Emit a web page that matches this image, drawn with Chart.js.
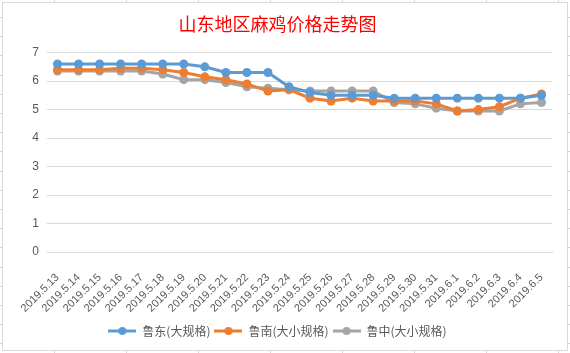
<!DOCTYPE html>
<html>
<head>
<meta charset="utf-8">
<script src="https://cdn.jsdelivr.net/npm/chart.js@4"></script>
<style>
  html, body { margin: 0; padding: 0; }
  body {
    width: 570px; height: 353px; overflow: hidden; position: relative;
    background-color: #fff;
    background-image:
      repeating-linear-gradient(to bottom, transparent 0, transparent 17px, #d4d4d4 17px, #d4d4d4 18px, transparent 18px, transparent 19.2px),
      repeating-linear-gradient(to right, transparent 0, transparent 54px, #d4d4d4 54px, #d4d4d4 55px, transparent 55px, transparent 72px);
  }
  #box {
    position: absolute; left: 2px; top: 2px;
    width: 564px; height: 347px;
    border: 1px solid #d9d9d9; background: #fff;
  }
</style>
</head>
<body>
<div id="box"><canvas id="priceChart" width="564" height="347"></canvas></div>
<script>
// dates on the x axis
const days = ["2019.5.13", "2019.5.14", "2019.5.15", "2019.5.16", "2019.5.17", "2019.5.18",
  "2019.5.19", "2019.5.20", "2019.5.21", "2019.5.22", "2019.5.23", "2019.5.24",
  "2019.5.25", "2019.5.26", "2019.5.27", "2019.5.28", "2019.5.29", "2019.5.30",
  "2019.5.31", "2019.6.1", "2019.6.2", "2019.6.3", "2019.6.4", "2019.6.5"];

// prices per region
const ludong = [6.6, 6.6, 6.6, 6.6, 6.6, 6.6, 6.6, 6.5, 6.3, 6.3, 6.3, 5.8,
  5.6, 5.5, 5.5, 5.5, 5.4, 5.4, 5.4, 5.4, 5.4, 5.4, 5.4, 5.5];
const lunan = [6.4, 6.4, 6.4, 6.45, 6.45, 6.4, 6.3, 6.15, 6.05, 5.9, 5.65, 5.7,
  5.4, 5.3, 5.4, 5.3, 5.3, 5.3, 5.2, 4.95, 5.0, 5.1, 5.4, 5.55];
const luzhong = [6.35, 6.35, 6.35, 6.35, 6.35, 6.25, 6.05, 6.05, 5.95, 5.8, 5.75, 5.7,
  5.65, 5.65, 5.65, 5.65, 5.25, 5.2, 5.05, 4.95, 4.95, 4.95, 5.2, 5.25];

const seriesNames = ["鲁东(大规格)", "鲁南(大小规格)", "鲁中(大小规格)"];
const seriesColors = ["#5B9BD5", "#ED7D31", "#A5A5A5"];
const chartTitle = "山东地区麻鸡价格走势图";

// little line-with-dot picture for the legend
function legendMark(color) {
  const c = document.createElement("canvas");
  c.width = 28; c.height = 10;
  const g = c.getContext("2d");
  g.strokeStyle = color; g.lineWidth = 3;
  g.beginPath(); g.moveTo(0, 5); g.lineTo(28, 5); g.stroke();
  g.fillStyle = color;
  g.beginPath(); g.arc(14, 5, 4, 0, Math.PI * 2); g.fill();
  return c;
}

function makeSet(i, values) {
  return {
    label: seriesNames[i],
    data: values,
    borderColor: seriesColors[i],
    backgroundColor: seriesColors[i],
    borderWidth: 3,
    pointRadius: 4.5,
    pointHoverRadius: 4.5,
    pointBorderWidth: 0,
    tension: 0,
    fill: false
  };
}

const font = "'Liberation Sans', 'Noto Sans CJK SC', sans-serif";

new Chart("priceChart", {
  type: "line",
  data: {
    labels: days,
    datasets: [makeSet(0, ludong), makeSet(1, lunan), makeSet(2, luzhong)]
  },
  options: {
    responsive: false,
    animation: false,
    layout: { padding: { left: 0, right: 15, top: 0, bottom: 3 } },
    plugins: {
      title: {
        display: true,
        text: chartTitle,
        color: "#FF0000",
        font: { family: "'Noto Sans CJK SC', sans-serif", size: 18, weight: "normal" },
        padding: { top: 10, bottom: 18 }
      },
      legend: {
        position: "bottom",
        labels: {
          usePointStyle: true,
          pointStyleWidth: 28,
          padding: 4,
          color: "#595959",
          font: { family: "'Noto Sans CJK SC', sans-serif", size: 12 },
          generateLabels: function (chart) {
            const items = Chart.defaults.plugins.legend.labels.generateLabels(chart);
            items.forEach(function (it, i) { it.pointStyle = legendMark(seriesColors[i]); });
            return items;
          }
        }
      },
      tooltip: { enabled: false }
    },
    scales: {
      x: {
        offset: true,
        grid: { display: false },
        border: { display: true, color: "#d9d9d9" },
        ticks: {
          color: "#595959",
          font: { family: font, size: 11 },
          maxRotation: 45,
          minRotation: 45,
          autoSkip: false,
          padding: 11
        },
        afterFit: function (scale) { scale.height = 69; }
      },
      y: {
        min: 0,
        max: 7,
        grid: { color: "#d9d9d9", drawTicks: false },
        border: { display: false },
        ticks: {
          stepSize: 1,
          color: "#595959",
          font: { family: font, size: 12 },
          padding: 8
        },
        afterFit: function (scale) { scale.width = 44; }
      }
    }
  }
});
</script>
</body>
</html>
